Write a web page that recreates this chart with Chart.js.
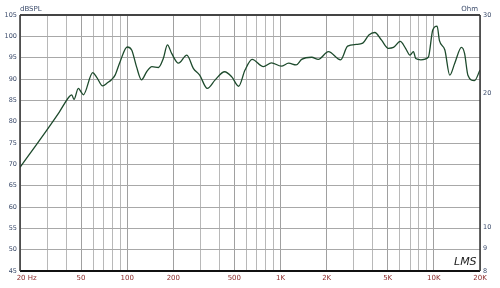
<!DOCTYPE html>
<html>
<head>
<meta charset="utf-8">
<script src="https://cdn.jsdelivr.net/npm/chart.js@4"></script>
<style>
  html, body { margin: 0; padding: 0; background: #fff; }
  #wrap { width: 500px; height: 288px; }
</style>
</head>
<body>
<div id="wrap"><canvas id="fr"></canvas></div>
<script>
// frequency response (Hz / dB SPL)
const freqs = [20, 30, 36, 42, 43.5, 45, 48, 50, 51.8, 59.6, 63.3, 69.2, 74.3, 79.3, 83.4, 89.8, 100, 107, 115, 124, 134, 145,
  160, 172, 183, 195, 216, 245, 270, 297, 333, 375, 432, 481, 533, 587, 653, 773, 873, 1012, 1130, 1265,
  1374, 1597, 1765, 2054, 2465, 2740, 3115, 3440, 3770, 4120, 4560, 5050, 5450, 6040, 6540, 6990, 7360, 7620,
  8230, 9200, 9840, 10500, 10880, 11800, 12700, 13690, 15140, 15860, 16680, 18400, 20000];
const spl = [69.3, 78.1, 82.2, 85.9, 86.3, 85.2, 87.8, 87.0, 86.3, 91.5, 90.4, 88.4, 89.1, 89.9, 90.9, 94.0, 97.5, 96.8, 92.9, 89.8, 91.7, 92.9,
  92.7, 94.8, 98.0, 96.0, 93.7, 95.6, 92.5, 90.9, 87.8, 89.8, 91.7, 90.5, 88.3, 92.1, 94.6, 92.9, 93.8, 93.0, 93.7, 93.3,
  94.6, 95.1, 94.6, 96.4, 94.5, 97.7, 98.1, 98.4, 100.3, 100.9, 99.1, 97.2, 97.4, 98.8, 97.2, 95.6, 96.4, 94.8,
  94.5, 95.1, 101.5, 102.4, 99.0, 96.8, 90.9, 93.7, 97.4, 96.0, 90.9, 89.6, 92.1];

const xGridFreqs = [20, 30, 40, 50, 60, 70, 80, 90, 100, 200, 300, 400, 500, 600, 700, 800, 900,
  1000, 2000, 3000, 4000, 5000, 6000, 7000, 8000, 9000, 10000, 20000];
const xLabels = { 20: '      20 Hz', 50: '50', 100: '100', 200: '200', 500: '500', 1000: '1K', 2000: '2K', 5000: '5K', 10000: '10K', 20000: '20K' };
const ohmTicks = [8, 9, 10, 20, 30];

const points = freqs.map((f, i) => ({ x: f, y: spl[i] }));

// frame, unit labels and the signature
const decor = {
  id: 'decor',
  afterDraw(chart) {
    const { ctx, chartArea: a } = chart;
    ctx.save();
    ctx.strokeStyle = '#444';
    ctx.lineWidth = 2;
    ctx.beginPath();
    ctx.moveTo(a.left, a.top); ctx.lineTo(a.right, a.top);
    ctx.stroke();
    ctx.strokeStyle = '#111';
    ctx.beginPath();
    ctx.moveTo(a.left, a.bottom); ctx.lineTo(a.right, a.bottom);
    ctx.stroke();
    ctx.lineWidth = 1.5;
    ctx.strokeStyle = '#333';
    ctx.beginPath();
    ctx.moveTo(a.left, a.top); ctx.lineTo(a.left, a.bottom);
    ctx.moveTo(a.right, a.top); ctx.lineTo(a.right, a.bottom);
    ctx.stroke();

    ctx.fillStyle = '#3a4a6a';
    ctx.font = '7px "DejaVu Sans"';
    ctx.textBaseline = 'alphabetic';
    ctx.textAlign = 'left';
    ctx.fillText('dBSPL', a.left, 11);
    ctx.textAlign = 'right';
    ctx.fillText('Ohm', a.right - 2, 11);

    ctx.fillStyle = '#222';
    ctx.font = 'italic 11px "DejaVu Sans"';
    ctx.textAlign = 'left';
    ctx.fillText('LMS', 454, 265);
    ctx.restore();
  }
};

new Chart(document.getElementById('fr'), {
  type: 'line',
  data: {
    datasets: [{
      data: points,
      borderColor: '#1d4a2c',
      borderWidth: 1.3,
      pointRadius: 0,
      tension: 0.4,
      cubicInterpolationMode: 'monotone',
      yAxisID: 'y'
    }]
  },
  options: {
    responsive: true,
    maintainAspectRatio: false,
    animation: false,
    layout: { padding: { top: 15, left: 0, right: 0, bottom: 0 } },
    plugins: { legend: { display: false }, tooltip: { enabled: false } },
    scales: {
      x: {
        type: 'logarithmic',
        min: 20,
        max: 20000,
        afterBuildTicks: s => { s.ticks = xGridFreqs.map(v => ({ value: v })); },
        afterFit: s => { s.height = 17; },
        border: { display: false },
        grid: {
          drawTicks: false,
          color: ctx => (xLabels[ctx.tick && ctx.tick.value] ? '#a0a0a0' : '#b8b8b8'),
          lineWidth: 1
        },
        ticks: {
          autoSkip: false,
          maxRotation: 0,
          padding: 3,
          color: '#8a2a2a',
          font: { size: 7, family: 'DejaVu Sans' },
          callback: v => xLabels[v] || ''
        }
      },
      y: {
        position: 'left',
        min: 45,
        max: 105,
        afterFit: s => { s.width = 20; },
        border: { display: false },
        grid: { drawTicks: false, color: '#a8a8a8' },
        ticks: {
          stepSize: 5,
          padding: 3,
          color: '#3a4a6a',
          font: { size: 6.5, family: 'DejaVu Sans' }
        }
      },
      ohm: {
        type: 'logarithmic',
        position: 'right',
        min: 8,
        max: 30,
        afterBuildTicks: s => { s.ticks = ohmTicks.map(v => ({ value: v })); },
        afterFit: s => { s.width = 20; },
        border: { display: false },
        grid: { display: false, drawTicks: false },
        ticks: {
          padding: 3,
          color: '#3a4a6a',
          font: { size: 6.5, family: 'DejaVu Sans' },
          callback: v => String(v)
        }
      }
    }
  },
  plugins: [decor]
});
</script>
</body>
</html>
